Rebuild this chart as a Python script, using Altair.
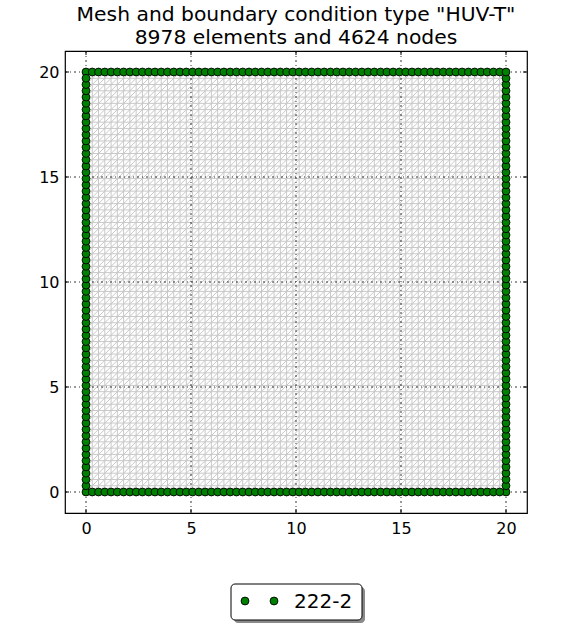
import altair as alt
import pandas as pd
import numpy as np

# ---- data ----
title_lines = ['Mesh and boundary condition type "HUV-T"', "8978 elements and 4624 nodes"]
n_side = 68                 # nodes per side (68 x 68 = 4624 nodes)
extent = [0.0, 20.0]        # square domain
axis_ticks = [0, 5, 10, 15, 20]
x_domain = [-1, 21]
y_domain = [-1, 21]
legend_label = "222-2"

W, H = 462, 462
FONT = "DejaVu Sans"

node_coords = np.linspace(extent[0], extent[1], n_side)
lo, hi = extent

# mesh edges (structured triangulation: horizontal, vertical, "/" diagonals)
edges = []
for c in node_coords:
    edges.append((lo, c, hi, c))
    edges.append((c, lo, c, hi))
for k in range(n_side - 1):
    a = node_coords[k]
    edges.append((lo, a, hi - a + lo, hi))
    if k > 0:
        edges.append((a, lo, hi, hi - a + lo))
mesh_df = pd.DataFrame(edges, columns=["x", "y", "x2", "y2"])

# boundary nodes
bnd = []
for c in node_coords:
    bnd += [(c, lo), (c, hi), (lo, c), (hi, c)]
bnd_df = pd.DataFrame(bnd, columns=["x", "y"]).drop_duplicates()

tick_df = pd.DataFrame({"x": axis_ticks, "y": axis_ticks})
one = pd.DataFrame({"label": [legend_label]})
title_df = pd.DataFrame({"t": title_lines, "py": [-30, -7]})

xs = alt.Scale(domain=x_domain, nice=False, zero=False)
ys = alt.Scale(domain=y_domain, nice=False, zero=False)
x_axis = alt.Axis(values=axis_ticks, grid=False, ticks=False, domain=False, title=None,
                  labelFont=FONT, labelFontSize=16, labelColor="black", labelPadding=7,
                  labelFlush=False)
y_axis = alt.Axis(values=axis_ticks, grid=False, ticks=False, domain=False, title=None,
                  labelFont=FONT, labelFontSize=16, labelColor="black", labelPadding=6,
                  labelFlush=False)

X = lambda: alt.X("x:Q", scale=xs, axis=x_axis)
Y = lambda: alt.Y("y:Q", scale=ys, axis=y_axis)

mesh = alt.Chart(mesh_df).mark_rule(color="#c8c8c8", strokeWidth=1).encode(
    x=X(), y=Y(), x2="x2:Q", y2="y2:Q")

grid_v = alt.Chart(tick_df).mark_rule(color="black", strokeWidth=0.8, strokeDash=[2, 3, 1, 3]).encode(
    x=X(), y=alt.value(0), y2=alt.value(H))
grid_h = alt.Chart(tick_df).mark_rule(color="black", strokeWidth=0.8, strokeDash=[2, 3, 1, 3]).encode(
    y=Y(), x=alt.value(0), x2=alt.value(W))

tb = alt.Chart(tick_df).mark_rule(color="black").encode(x=X(), y=alt.value(H), y2=alt.value(H - 4))
tt = alt.Chart(tick_df).mark_rule(color="black").encode(x=X(), y=alt.value(0), y2=alt.value(4))
tl = alt.Chart(tick_df).mark_rule(color="black").encode(y=Y(), x=alt.value(0), x2=alt.value(4))
tr = alt.Chart(tick_df).mark_rule(color="black").encode(y=Y(), x=alt.value(W - 4), x2=alt.value(W))

PT = dict(shape="circle", filled=True, fill="#008000", stroke="black",
          strokeWidth=0.9, opacity=1, size=62)
pts = alt.Chart(bnd_df).mark_point(**PT).encode(x=X(), y=Y())

# legend (manual, below the plot)
shadow = alt.Chart(one).mark_rect(fill="#8a8a8a", cornerRadius=4).encode(
    x=alt.value(169), x2=alt.value(300), y=alt.value(536), y2=alt.value(572))
box = alt.Chart(one).mark_rect(fill="white", stroke="black", strokeWidth=1, cornerRadius=4).encode(
    x=alt.value(166), x2=alt.value(297), y=alt.value(533), y2=alt.value(569))
lp1 = alt.Chart(one).mark_point(**PT).encode(x=alt.value(180), y=alt.value(550))
lp2 = alt.Chart(one).mark_point(**PT).encode(x=alt.value(209), y=alt.value(550))
ltxt = alt.Chart(one).mark_text(font=FONT, fontSize=20, align="left", baseline="middle",
                                color="black").encode(
    x=alt.value(229), y=alt.value(551), text="label:N")

titles = alt.Chart(title_df).mark_text(font=FONT, fontSize=20.3, align="center",
                                       baseline="alphabetic", color="black").encode(
    x=alt.value(W / 2), y=alt.Y("py:Q", scale=None), text="t:N")

chart = alt.layer(mesh, grid_v, grid_h, pts, tb, tt, tl, tr,
                  shadow, box, lp1, lp2, ltxt, titles).properties(
    width=W, height=H,
    background="white",
    autosize=alt.AutoSizeParams(type="none"),
    padding={"left": 65, "top": 51, "right": 34, "bottom": 118},
).configure_view(stroke="black", strokeWidth=1.2)

chart.save("out.html", embed_options={"renderer": "svg", "actions": False})
